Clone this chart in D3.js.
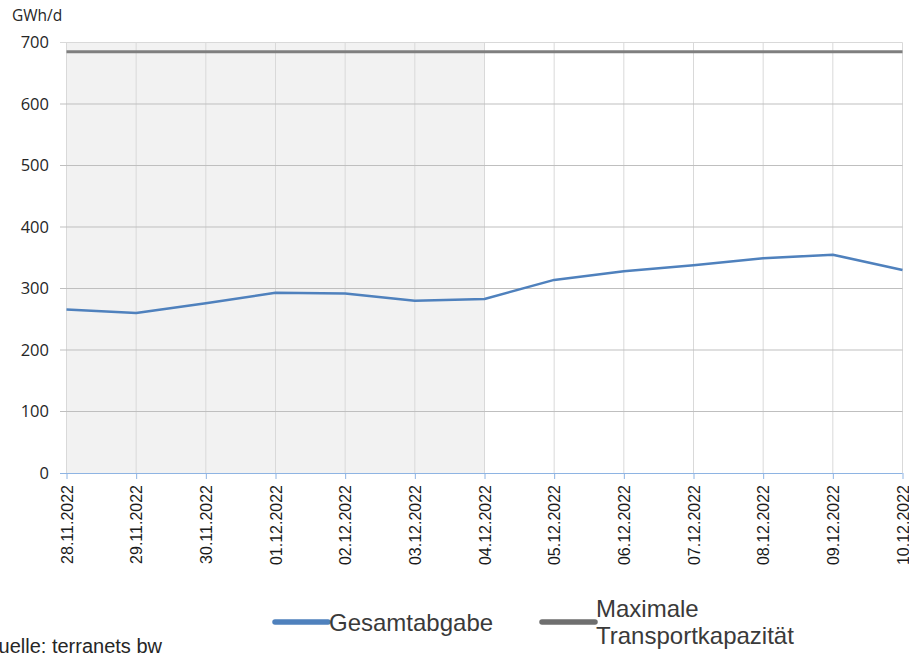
<!DOCTYPE html>
<html>
<head>
<meta charset="utf-8">
<script src="https://cdn.jsdelivr.net/npm/d3@7"></script>
<style>
body{margin:0;background:#fff;}
svg{display:block;}
</style>
</head>
<body>
<svg id="chart" width="909" height="653"></svg>
<script>
var datum=["28.11.2022","29.11.2022","30.11.2022","01.12.2022","02.12.2022","03.12.2022","04.12.2022","05.12.2022","06.12.2022","07.12.2022","08.12.2022","09.12.2022","10.12.2022"];
var gesamtabgabe=[266,260,276,293,292,280,283,314,328,338,349,355,330];
var kapazitaet=[685,685,685,685,685,685,685,685,685,685,685,685,685];
var yTicks=[0,100,200,300,400,500,600,700];
var schattenBis="04.12.2022";

var svg=d3.select("#chart");
var links=66.5, rechts=902.5, oben=42.5, unten=473;

var x=d3.scalePoint().domain(datum).range([links,rechts]);
var y=d3.scaleLinear().domain([0,700]).range([unten,oben]);

// grauer Bereich
svg.append("rect")
    .attr("x",links)
    .attr("y",oben)
    .attr("width",x(schattenBis)-links)
    .attr("height",unten-oben)
    .attr("fill","#f2f2f2");

// vertikale Linien
svg.selectAll(".vgrid").data(datum).enter().append("line")
    .attr("x1",function(d){return x(d);})
    .attr("x2",function(d){return x(d);})
    .attr("y1",oben)
    .attr("y2",unten)
    .attr("stroke","#d9d9d9")
    .attr("stroke-width",1);

// horizontale Linien
svg.selectAll(".hgrid").data(yTicks.filter(function(d){return d>0;})).enter().append("line")
    .attr("x1",60)
    .attr("x2",rechts)
    .attr("y1",function(d){return y(d);})
    .attr("y2",function(d){return y(d);})
    .attr("stroke",function(d){return d==700?"#d9d9d9":"#bfbfbf";})
    .attr("stroke-width",1);

// x-Achse
var xAchse=svg.append("g")
    .attr("transform","translate(0,"+unten+")")
    .call(d3.axisBottom(x).tickSize(6).tickPadding(6));
xAchse.select(".domain").attr("stroke","#8eb4e3").attr("d","M60,0.5H"+rechts);
xAchse.selectAll(".tick line").attr("stroke","#8eb4e3");
xAchse.selectAll(".tick text")
    .attr("transform","rotate(-90)")
    .attr("x",-12)
    .attr("y",0)
    .attr("dy","0.35em")
    .style("text-anchor","end")
    .style("font-family","Liberation Sans, Arial")
    .style("font-size","16px")
    .style("fill","#1a1a1a");

// y-Achse
var yAchse=svg.append("g")
    .attr("transform","translate("+links+",0)")
    .call(d3.axisLeft(y).tickValues(yTicks).tickSize(0).tickPadding(17.5));
yAchse.select(".domain").remove();
yAchse.selectAll(".tick text")
    .style("font-family","Open Sans, DejaVu Sans")
    .style("font-size","16.5px")
    .style("fill","#262626");

svg.append("text")
    .attr("x",12)
    .attr("y",21)
    .style("font-family","Open Sans, DejaVu Sans")
    .style("font-size","15.5px")
    .style("fill","#262626")
    .text("GWh/d");

var linie=d3.line()
    .x(function(d,i){return x(datum[i]);})
    .y(function(d){return y(d);});

svg.append("path")
    .datum(kapazitaet)
    .attr("d",linie)
    .attr("fill","none")
    .attr("stroke","#7f7f7f")
    .attr("stroke-width",3);

svg.append("path")
    .datum(gesamtabgabe)
    .attr("d",linie)
    .attr("fill","none")
    .attr("stroke","#4f81bd")
    .attr("stroke-width",2.5)
    .attr("stroke-linejoin","round");

// Legende
var legende=[
    {name:["Gesamtabgabe"],farbe:"#4f81bd",x:273},
    {name:["Maximale","Transportkapazität"],farbe:"#6f6f6f",x:540}
];
legende.forEach(function(l){
    svg.append("line")
        .attr("x1",l.x+2)
        .attr("x2",l.x+55)
        .attr("y1",622)
        .attr("y2",622)
        .attr("stroke",l.farbe)
        .attr("stroke-width",5.5)
        .attr("stroke-linecap","round");
    var t=svg.append("text")
        .attr("x",l.x+56)
        .attr("y",l.name.length==1?631:617)
        .style("font-family","Liberation Sans, Arial")
        .style("font-size","24px")
        .style("fill","#3a3a3a");
    l.name.forEach(function(n,i){
        t.append("tspan").attr("x",l.x+56).attr("dy",i==0?0:27).text(n);
    });
});

svg.append("text")
    .attr("x",-17)
    .attr("y",653)
    .style("font-family","Liberation Sans, Arial")
    .style("font-size","20px")
    .style("fill","#262626")
    .text("Quelle: terranets bw");
</script>
</body>
</html>
